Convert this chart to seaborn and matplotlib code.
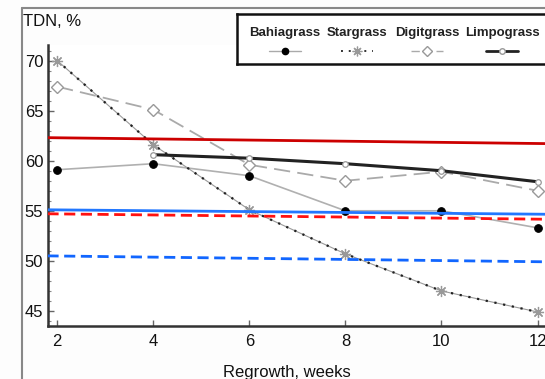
import numpy as np
import pandas as pd
import matplotlib
matplotlib.use("Agg")
import matplotlib.pyplot as plt
import seaborn as sns
from matplotlib.lines import Line2D
from matplotlib.ticker import AutoMinorLocator

sns.set_theme(style="ticks")
plt.rcParams["font.family"] = ["Liberation Sans", "DejaVu Sans"]

# regrowth interval, weeks
weeks = [2, 4, 6, 8, 10, 12]
limpo_weeks = [4, 6, 8, 10, 12]

# TDN, %
bahiagrass = [59.1, 59.7, 58.5, 55.0, 55.0, 53.3]
stargrass = [70.0, 61.6, 55.1, 50.7, 47.0, 44.9]
digitgrass = [67.4, 65.1, 59.6, 58.0, 58.9, 57.0]
limpograss = [60.6, 60.25, 59.7, 59.0, 57.9]

# reference lines (start / end value across the plot)
ref_x = [1.8, 12.3]
red_solid = [62.3, 61.7]
blue_solid = [55.1, 54.65]
red_dashed = [54.7, 54.15]
blue_dashed = [50.5, 49.9]

legend_names = ["Bahiagrass", "Stargrass", "Digitgrass", "Limpograss"]

W, H = 545, 379
fig = plt.figure(figsize=(W / 100, H / 100), dpi=100)
fig.patch.set_facecolor("#fdfdfd")

left_px, right_px, bottom_px, top_px = 47.5, 552, 326, 45
ax = fig.add_axes([left_px / W, 1 - bottom_px / H,
                   (right_px - left_px) / W, (bottom_px - top_px) / H])
ax.set_facecolor("white")

df_b = pd.DataFrame({"week": weeks, "tdn": bahiagrass})
df_s = pd.DataFrame({"week": weeks, "tdn": stargrass})
df_d = pd.DataFrame({"week": weeks, "tdn": digitgrass})
df_l = pd.DataFrame({"week": limpo_weeks, "tdn": limpograss})

sns.lineplot(data=df_b, x="week", y="tdn", ax=ax, color="#b0b0b0", lw=1.2,
             marker="o", markersize=5.5, markerfacecolor="black",
             markeredgecolor="black", zorder=3)
sns.lineplot(data=df_s, x="week", y="tdn", ax=ax, color="#9a9a9a", lw=0.8, zorder=3)
sns.lineplot(data=df_s, x="week", y="tdn", ax=ax, color="#222222", lw=1.6,
             linestyle=(0, (1, 3)), marker=(8, 2, 0), markersize=8,
             markeredgecolor="#999999", markeredgewidth=0.9, zorder=3)
sns.lineplot(data=df_d, x="week", y="tdn", ax=ax, color="#aaaaaa", lw=1.3,
             linestyle=(0, (9, 4)), marker="D", markersize=6,
             markerfacecolor="white", markeredgecolor="#999999",
             markeredgewidth=1.0, zorder=3)
sns.lineplot(data=df_l, x="week", y="tdn", ax=ax, color="#222222", lw=2.2,
             marker="o", markersize=4, markerfacecolor="white",
             markeredgecolor="#999999", markeredgewidth=0.9, zorder=4)

ax.plot(ref_x, red_solid, color="#cc0000", lw=2.0, zorder=5)
ax.plot(ref_x, blue_solid, color="#2277ff", lw=2.0, zorder=5)
ax.plot(ref_x, red_dashed, color="#ff1111", lw=2.0, ls=(0, (4, 2)), zorder=5)
ax.plot(ref_x, blue_dashed, color="#1166ff", lw=2.0, ls=(0, (4, 2)), zorder=5)

ax.set_xlim(1.8, 12.3)
ax.set_ylim(43.5, 71.55)
ax.set_xticks(weeks)
ax.set_yticks([45, 50, 55, 60, 65, 70])
ax.yaxis.set_minor_locator(AutoMinorLocator(5))
ax.tick_params(axis="both", direction="in", labelsize=12, colors="#666666",
               labelcolor="#111111", width=1.0, length=4)
ax.tick_params(axis="y", which="minor", direction="in", length=2.5,
               width=0.8, colors="#888888")
ax.tick_params(axis="x", pad=6)
ax.tick_params(axis="y", pad=3)
ax.set_xlabel("")
ax.set_ylabel("")
for side in ["top", "right"]:
    ax.spines[side].set_visible(False)
for side in ["left", "bottom"]:
    ax.spines[side].set_color("#333333")
    ax.spines[side].set_linewidth(1.8)

fig.text(23 / W, 1 - 21 / H, "TDN, %", fontsize=12, color="#111111",
         ha="left", va="center")
fig.text(287 / W, 1 - 372 / H, "Regrowth, weeks", fontsize=12,
         color="#111111", ha="center", va="center")

# outer frame of the screenshot
fig.add_artist(Line2D([22 / W, 1], [1 - 8 / H, 1 - 8 / H],
                      transform=fig.transFigure, color="#888888", lw=1.5))
fig.add_artist(Line2D([22 / W, 22 / W], [0, 1 - 8 / H],
                      transform=fig.transFigure, color="#888888", lw=1.5))

# legend: names above the line samples
lg_l, lg_r, lg_t, lg_b = 237, 552, 14, 64
lax = fig.add_axes([lg_l / W, 1 - lg_b / H, (lg_r - lg_l) / W, (lg_b - lg_t) / H])
lax.set_xlim(0, lg_r - lg_l)
lax.set_ylim(0, lg_b - lg_t)
lax.set_xticks([])
lax.set_yticks([])
lax.set_facecolor("white")
for s in lax.spines.values():
    s.set_color("#111111")
    s.set_linewidth(1.8)

centers = [47.5, 119.5, 190, 265]
half = [16, 16, 16, 16]
styles = [
    dict(color="#aaaaaa", lw=1.0, marker="o", markersize=4.5,
         markerfacecolor="black", markeredgecolor="black"),
    dict(color="#333333", lw=1.4, ls=(0, (1, 3)), marker=(8, 2, 0),
         markersize=7, markeredgecolor="#999999", markeredgewidth=0.9),
    dict(color="#aaaaaa", lw=1.0, ls=(0, (6, 3)), marker="D", markersize=5,
         markerfacecolor="white", markeredgecolor="#999999"),
    dict(color="#222222", lw=2.0, marker="o", markersize=4,
         markerfacecolor="white", markeredgecolor="#999999"),
]
for name, cx, hw, st in zip(legend_names, centers, half, styles):
    lax.text(cx, 31.3, name, fontsize=9.5, fontweight="bold", color="#222222",
             ha="center", va="center")
    line_st = {k: v for k, v in st.items() if not k.startswith("marker")}
    lax.plot([cx - hw, cx + hw], [13, 13], **line_st)
    mk_st = {k: v for k, v in st.items() if k not in ("lw", "ls")}
    lax.plot([cx], [13], ls="none", **mk_st)

fig.savefig("out.png", dpi=100)
